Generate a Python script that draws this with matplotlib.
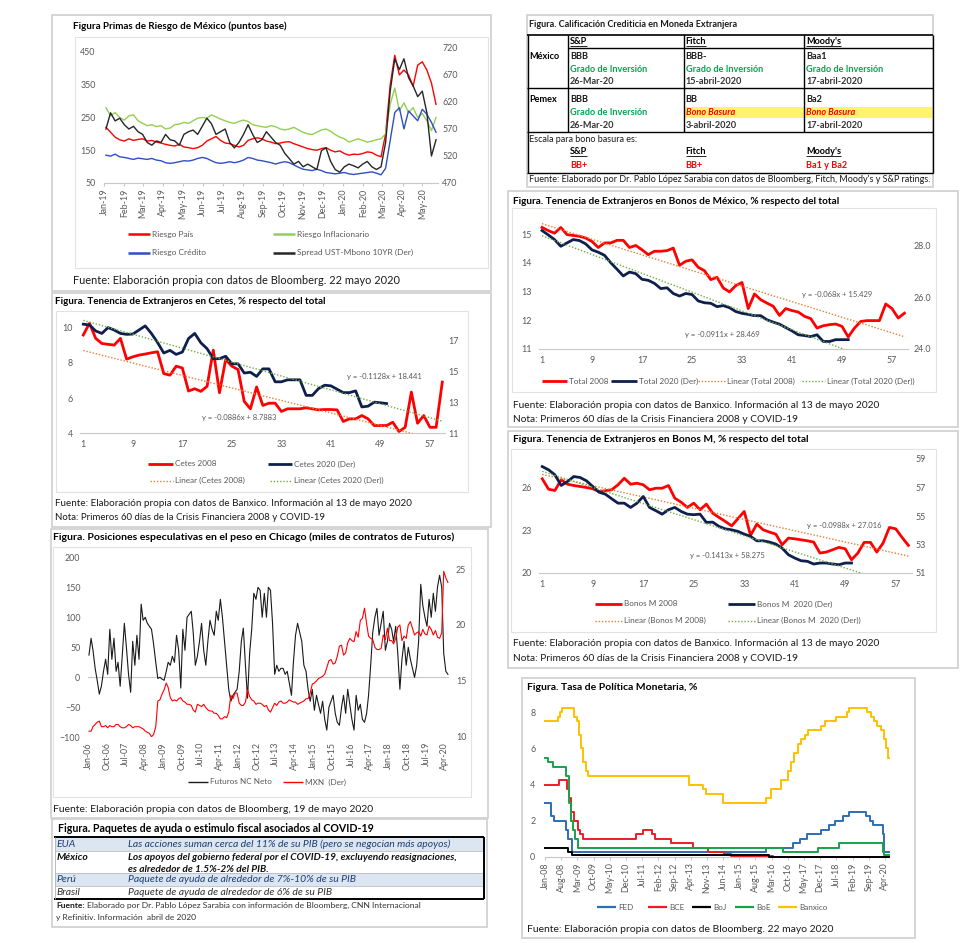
import matplotlib
matplotlib.use('Agg')
import matplotlib.pyplot as plt
import matplotlib.dates as mdates
import numpy as np
import pandas as pd

W, H, DPI = 972, 943, 100
plt.rcParams['font.family'] = ['Lato', 'DejaVu Sans']

# ---------------- DATA ----------------
# Panel 1: Primas de Riesgo de México (weekly, Fridays)
p1_start, p1_end = '2019-01-04', '2020-05-22'
riesgo_pais = [220, 205, 190, 182, 178, 185, 180, 183, 185, 178,
               180, 175, 172, 168, 165, 163, 168, 160, 158, 155,
               158, 165, 178, 185, 192, 180, 172, 170, 165, 160,
               165, 180, 185, 188, 185, 178, 175, 170, 172, 175,
               176, 170, 165, 160, 155, 152, 150, 155, 158, 150,
               145, 148, 140, 135, 138, 137, 140, 145, 143, 135,
               130, 200, 350, 440, 380, 395, 380, 345, 410, 420,
               395, 355, 290]
riesgo_inflacionario = [280, 255, 265, 250, 242, 255, 258, 240, 232, 225,
                        228, 222, 225, 215, 218, 228, 230, 235, 232, 240,
                        248, 250, 248, 258, 252, 245, 240, 235, 232, 238,
                        242, 238, 228, 225, 222, 220, 225, 222, 215, 212,
                        215, 220, 212, 205, 200, 198, 205, 212, 215, 208,
                        198, 190, 185, 175, 180, 185, 180, 175, 178, 182,
                        185, 200, 290, 340, 270, 295, 265, 280, 250, 262,
                        240, 210, 250]
riesgo_credito = [135, 132, 138, 130, 128, 125, 122, 126, 124, 122,
                  125, 120, 118, 112, 110, 112, 115, 118, 117, 120,
                  125, 128, 125, 118, 112, 110, 112, 115, 112, 115,
                  120, 128, 125, 120, 118, 115, 112, 108, 112, 115,
                  112, 105, 98, 92, 90, 88, 92, 88, 82, 80,
                  78, 80, 82, 78, 76, 78, 80, 82, 84, 80,
                  75, 95, 180, 265, 280, 215, 270, 255, 240, 275,
                  260, 235, 205]
spread_ust_mbono = [570, 600, 585, 590, 578, 570, 575, 565, 560, 545,
                    540, 548, 545, 560, 550, 548, 540, 560, 565, 568,
                    560, 575, 590, 580, 560, 565, 570, 545, 535, 545,
                    560, 578, 560, 545, 550, 565, 555, 545, 540, 525,
                    515, 505, 510, 500, 505, 500, 495, 530, 535, 510,
                    495, 490, 500, 505, 502, 498, 505, 510, 500, 495,
                    500, 545, 640, 700, 680, 700, 665, 650, 630, 640,
                    600, 520, 550]

# Panel: Tenencia en Cetes (days 1..)
cetes_2008 = [9.58, 10.25, 9.39, 9.10, 9.05, 9.01, 9.39, 8.21, 8.34, 8.44,
              8.50, 8.57, 8.63, 7.39, 7.30, 7.81, 7.71, 6.40, 6.53, 6.38,
              6.67, 8.72, 6.30, 8.19, 7.81, 7.62, 5.81, 5.39, 6.63, 5.58,
              5.71, 5.71, 5.24, 5.39, 5.39, 5.39, 5.45, 5.39, 5.33, 5.35,
              5.35, 5.33, 4.67, 4.82, 4.82, 5.01, 4.82, 4.44, 4.44, 4.44,
              4.63, 4.10, 4.34, 6.34, 4.57, 5.01, 4.34, 4.34, 6.91]
cetes_2020 = [18.08, 18.03, 17.64, 17.48, 17.86, 17.70, 17.48, 17.42, 17.44, 17.70,
              17.97, 17.48, 16.89, 16.21, 16.38, 16.12, 16.27, 17.15, 17.48, 16.87,
              16.49, 15.84, 15.84, 16.00, 15.51, 15.51, 14.91, 14.96, 14.69, 15.18,
              15.18, 14.34, 14.34, 14.47, 14.47, 14.47, 13.46, 13.46, 13.90, 14.12,
              14.08, 13.86, 13.64, 13.64, 13.75, 12.71, 12.76, 13.02, 12.98, 12.93]
cetes_trend_2008 = (-0.0886, 8.7883)
cetes_trend_2020 = (-0.1128, 18.441)

# Panel: Tenencia en Bonos de México
total_2008 = [15.23, 15.12, 15.03, 15.23, 14.98, 14.95, 14.92, 14.86, 14.74, 14.53,
              14.69, 14.69, 14.78, 14.78, 14.53, 14.60, 14.45, 14.28, 14.40, 14.40,
              14.42, 14.51, 13.91, 14.05, 14.10, 13.84, 13.72, 13.41, 13.49, 13.12,
              12.98, 13.20, 13.31, 12.40, 12.91, 12.71, 12.59, 12.48, 12.16, 12.40,
              12.33, 12.28, 12.13, 12.05, 11.72, 11.80, 11.84, 11.86, 11.78, 11.41,
              11.72, 11.95, 11.98, 11.98, 11.98, 12.56, 12.40, 12.07, 12.24]
total_2020 = [28.58, 28.41, 28.23, 27.97, 28.10, 28.23, 28.19, 28.06, 27.83, 27.74,
              27.62, 27.33, 27.08, 26.82, 26.97, 26.91, 26.69, 26.65, 26.53, 26.33,
              26.36, 26.14, 26.04, 26.14, 26.10, 25.85, 25.78, 25.76, 25.63, 25.67,
              25.59, 25.44, 25.37, 25.33, 25.28, 25.28, 25.12, 25.03, 24.95, 24.82,
              24.69, 24.54, 24.51, 24.47, 24.54, 24.28, 24.28, 24.35, 24.35, 24.35]
total_trend_2008 = (-0.068, 15.429)
total_trend_2020 = (-0.0911, 28.469)

# Panel: Tenencia en Bonos M
bonosm_2008 = [26.61, 25.88, 25.79, 26.54, 26.23, 26.14, 26.07, 26.00, 25.91, 25.72,
               25.77, 25.84, 26.19, 26.65, 26.23, 26.30, 26.19, 25.84, 25.95, 25.95,
               26.14, 25.25, 24.97, 24.60, 24.90, 24.44, 24.83, 24.20, 23.90, 23.62,
               23.31, 23.81, 24.32, 22.64, 23.43, 23.03, 22.87, 22.73, 21.98, 22.45,
               22.40, 22.33, 22.26, 22.17, 21.40, 21.47, 21.63, 21.80, 21.70, 20.93,
               21.40, 22.15, 22.15, 21.47, 22.10, 23.20, 23.10, 22.50, 21.94]
bonosm_2020 = [58.47, 58.24, 57.89, 57.14, 57.42, 57.77, 57.70, 57.47, 57.07, 56.67,
               56.53, 56.21, 55.90, 55.90, 55.60, 55.90, 56.37, 55.60, 55.37, 55.13,
               55.44, 55.60, 55.32, 55.13, 55.09, 55.13, 54.55, 54.57, 54.27, 54.10,
               54.03, 53.92, 53.73, 53.57, 53.26, 53.26, 53.17, 53.03, 52.75, 52.28,
               52.05, 51.86, 51.82, 51.63, 51.70, 51.70, 51.63, 51.58, 51.70, 51.70]
bonosm_trend_2008 = (-0.0988, 27.016)
bonosm_trend_2020 = (-0.1413, 58.275)
trend_days = [1, 59]
day_ticks = [1, 9, 17, 25, 33, 41, 49, 57]

# Panel: Posiciones especulativas (monthly, Jan-2006 .. May-2020)
pos_start = '2006-01-01'
futuros_nc_neto = [37, 65, 45, 15, -5, -28, -15, 10, 30, 5, 80, 30,
                   65, 10, 25, -15, 35, 90, 50, 5, -25, 60, 20, 70,
                   30, 122, 95, 100, 90, 85, 80, 55, 25, -2, 0, -3,
                   -5, 10, 25, 20, 35, 25, 70, 45, -18, 80, 45, 100,
                   105, 110, 75, 20, 35, 60, 90, 45, 20, 60, 95, 80,
                   70, 110, 95, 130, 100, 60, 20, -20, -40, -30, -25, -20,
                   10, 60, 82, 20, -35, 40, 80, 140, 130, 150, 145, 100,
                   140, 100, 150, 145, 90, 5, 20, 10, 15, 15, 5, 10,
                   -10, -30, 25, 70, 90, 75, 60, 20, 10, -20, -40, -20,
                   -55, -30, -45, -60, -40, -70, -88, -50, -40, -30, -60, -75,
                   -80, -50, -30, -60, -20, -45, -70, -88, -30, -55, -45, -70,
                   -75, -60, -30, 20, 75, 100, 115, 70, 90, 110, 45, 60,
                   90, 80, 60, 85, 40, -20, 30, 60, 20, 50, 30, 15,
                   0, 20, 60, 155, 120, 100, 85, 130, 100, 140, 110, 150,
                   170, 150, 40, 10, 5]
mxn = [10.5, 10.5, 10.9, 11.1, 11.3, 11.4, 10.9, 10.9, 11.0, 10.8, 11.0, 10.9,
       10.9, 11.1, 11.1, 10.9, 10.8, 10.8, 10.9, 11.1, 11.0, 10.8, 10.9, 10.9,
       10.9, 10.8, 10.7, 10.5, 10.4, 10.3, 10.0, 10.2, 10.9, 13.2, 13.3, 13.8,
       14.2, 14.8, 14.4, 13.5, 13.2, 13.3, 13.2, 13.4, 13.5, 13.2, 13.1, 12.9,
       12.9, 12.8, 12.4, 12.2, 12.9, 12.8, 12.7, 12.9, 12.6, 12.4, 12.3, 12.3,
       12.1, 12.1, 11.9, 11.6, 11.6, 11.8, 11.7, 12.2, 13.7, 13.4, 13.9, 13.9,
       13.0, 12.8, 12.8, 13.1, 14.2, 13.6, 13.3, 13.2, 12.9, 13.0, 13.0, 12.9,
       12.7, 12.8, 12.4, 12.2, 12.6, 13.0, 12.8, 13.1, 13.2, 13.0, 13.0, 13.1,
       13.3, 13.2, 13.1, 13.1, 12.9, 13.0, 13.1, 13.2, 13.4, 13.4, 13.9, 14.7,
       14.8, 15.0, 15.2, 15.3, 15.4, 15.6, 16.2, 16.8, 16.9, 16.5, 16.6, 17.2,
       18.1, 18.2, 17.3, 17.5, 18.4, 18.8, 18.6, 18.5, 19.4, 18.9, 20.4, 20.6,
       21.5, 20.1, 19.0, 18.8, 18.7, 18.0, 17.8, 17.8, 17.9, 19.1, 18.7, 19.7,
       18.6, 18.6, 18.3, 18.8, 19.8, 20.0, 18.6, 19.0, 18.8, 20.0, 20.3, 19.7,
       19.1, 19.3, 19.4, 19.0, 19.6, 19.2, 19.1, 19.9, 19.6, 19.1, 19.5, 18.9,
       18.8, 19.3, 24.8, 24.2, 23.8]

# Panel: Tasa de política monetaria (decision dates and new levels)
rates_end = '2020-05-22'
fed_dates = ['2008-01-01', '2008-03-18', '2008-04-30', '2008-10-08', '2008-10-29', '2008-12-16',
             '2015-12-16', '2016-12-14', '2017-03-15', '2017-06-14', '2017-12-13', '2018-03-21',
             '2018-06-13', '2018-09-26', '2018-12-19', '2019-07-31', '2019-09-18', '2019-10-30',
             '2020-03-03', '2020-03-15']
fed_rates = [3.0, 2.25, 2.0, 1.5, 1.0, 0.25, 0.5, 0.75, 1.0, 1.25, 1.5, 1.75,
             2.0, 2.25, 2.5, 2.25, 2.0, 1.75, 1.25, 0.25]
bce_dates = ['2008-01-01', '2008-07-09', '2008-10-15', '2008-11-12', '2008-12-10', '2009-01-21',
             '2009-03-11', '2009-04-08', '2009-05-13', '2011-04-13', '2011-07-13', '2011-11-09',
             '2011-12-14', '2012-07-11', '2013-05-08', '2013-11-13', '2014-06-11', '2014-09-10',
             '2016-03-16']
bce_rates = [4.0, 4.25, 3.75, 3.25, 2.5, 2.0, 1.5, 1.25, 1.0, 1.25, 1.5, 1.25,
             1.0, 0.75, 0.5, 0.25, 0.15, 0.05, 0.0]
boj_dates = ['2008-01-01', '2008-10-31', '2008-12-19', '2016-01-29']
boj_rates = [0.5, 0.3, 0.1, 0.0]
boe_dates = ['2008-01-01', '2008-02-07', '2008-04-10', '2008-10-08', '2008-11-06', '2008-12-04',
             '2009-01-08', '2009-02-05', '2009-03-05', '2016-08-04', '2017-11-02', '2018-08-02',
             '2020-03-11', '2020-03-19']
boe_rates = [5.5, 5.25, 5.0, 4.5, 3.0, 2.0, 1.5, 1.0, 0.5, 0.25, 0.5, 0.75, 0.25, 0.1]
banxico_dates = ['2008-01-01', '2008-06-20', '2008-07-18', '2008-08-15', '2009-01-16', '2009-02-20',
                 '2009-03-20', '2009-04-17', '2009-05-15', '2009-06-19', '2009-07-17', '2013-03-08',
                 '2013-09-06', '2013-10-25', '2014-06-06', '2015-12-17', '2016-02-17', '2016-06-30',
                 '2016-09-29', '2016-11-17', '2016-12-15', '2017-02-09', '2017-03-30', '2017-05-18',
                 '2017-06-22', '2017-12-14', '2018-02-08', '2018-06-21', '2018-11-15', '2018-12-20',
                 '2019-08-15', '2019-09-26', '2019-11-14', '2019-12-19', '2020-02-13', '2020-03-20',
                 '2020-04-21', '2020-05-14']
banxico_rates = [7.5, 7.75, 8.0, 8.25, 7.75, 7.5, 6.75, 6.0, 5.25, 4.75, 4.5, 4.0,
                 3.75, 3.5, 3.0, 3.25, 3.75, 4.25, 4.75, 5.25, 5.75, 6.25, 6.5, 6.75,
                 7.0, 7.25, 7.5, 7.75, 8.0, 8.25, 8.0, 7.75, 7.5, 7.25, 7.0, 6.5,
                 6.0, 5.5]

# ---------------- STYLE ----------------
RED = '#FF0000'
GREEN_L = '#92D050'
BLUE = '#2F4FC4'
DARK = '#262626'
NAVY = '#0E1F4D'
ORANGE = '#ED7D31'
GREEN_T = '#70AD47'
TICK = '#595959'
FRAME = '#D2D2D2'
INNER = '#E2E2E2'
AXLINE = '#C8C8C8'
DOT = (0, (1, 1.3))
TS = 6.4      # tick label size
LS = 5.9      # legend text size

fig = plt.figure(figsize=(W / DPI, H / DPI), dpi=DPI)
fig.patch.set_facecolor('white')


def pax(x0, y0, x1, y1):
    return fig.add_axes([x0 / W, 1 - y1 / H, (x1 - x0) / W, (y1 - y0) / H])


ov = fig.add_axes([0, 0, 1, 1], zorder=20)
ov.set_xlim(0, W)
ov.set_ylim(H, 0)
ov.axis('off')


def rect(x0, y0, x1, y1, ec='none', lw=1.0, fc='none', z=1):
    ov.add_patch(plt.Rectangle((x0, y0), x1 - x0, y1 - y0, ec=ec, fc=fc, lw=lw, zorder=z))


def hl(x0, x1, y, c='black', lw=1.0, ls='-', z=3):
    ov.plot([x0, x1], [y, y], color=c, lw=lw, ls=ls, zorder=z, solid_capstyle='butt')


def vl(x, y0, y1, c='black', lw=1.0, z=3):
    ov.plot([x, x], [y0, y1], color=c, lw=lw, zorder=z, solid_capstyle='butt')


def T(x, y, s, size=6.0, color='#000000', weight='normal', style='normal', ha='left'):
    return ov.text(x, y, s, fontsize=size, color=color, fontweight=weight,
                   fontstyle=style, ha=ha, va='center', zorder=5)


def clean(ax, bottom=False):
    for k, s in ax.spines.items():
        s.set_visible(False)
    if bottom:
        ax.spines['bottom'].set_visible(True)
        ax.spines['bottom'].set_color(AXLINE)
        ax.spines['bottom'].set_linewidth(0.8)
    ax.patch.set_alpha(0)
    ax.tick_params(axis='both', length=0, labelsize=TS, labelcolor=TICK)


def eq(tr):
    return f'y = {tr[0]}x + {tr[1]}'


# ---------------- FRAMES ----------------
rect(52, 15, 491, 291, ec=FRAME, lw=1.3)
rect(75, 37, 488, 268, ec=INNER, lw=0.8)
rect(52, 293, 491, 527, ec=FRAME, lw=1.3)
rect(56, 311, 468, 492, ec=INNER, lw=0.8)
rect(51, 529, 488, 818, ec=FRAME, lw=1.3)
rect(53, 547, 471, 797, ec=INNER, lw=0.8)
rect(52, 819, 487, 927, ec=FRAME, lw=1.3)
rect(527, 15, 933, 187, ec=FRAME, lw=1.3)
rect(508, 191, 958, 427, ec=FRAME, lw=1.3)
rect(512, 208, 936, 392, ec=INNER, lw=0.8)
rect(508, 431, 958, 668, ec=FRAME, lw=1.3)
rect(511, 449, 936, 632, ec=INNER, lw=0.8)
rect(522, 678, 915, 938, ec=FRAME, lw=1.3)

# ---------------- PANEL 1 ----------------
d1 = pd.date_range(p1_start, p1_end, freq='W-FRI')
ax1 = pax(104, 48, 438, 183)
clean(ax1, bottom=True)
ax1.plot(d1, riesgo_pais, color=RED, lw=1.0)
ax1.plot(d1, riesgo_inflacionario, color=GREEN_L, lw=1.0)
ax1.plot(d1, riesgo_credito, color=BLUE, lw=1.0)
ax1.set_ylim(50, 462.2)
ax1.set_yticks([50, 150, 250, 350, 450])
ax1.set_xlim(pd.Timestamp('2019-01-01'), pd.Timestamp('2020-05-25'))
ax1.xaxis.set_major_locator(mdates.MonthLocator())
ax1.xaxis.set_major_formatter(mdates.DateFormatter('%b-%y'))
ax1.tick_params(axis='x', length=2.5, color=AXLINE, pad=1.5, labelrotation=90)
ax1.tick_params(axis='y', pad=6.0)
ax1r = ax1.twinx()
clean(ax1r)
ax1r.plot(d1, spread_ust_mbono, color=DARK, lw=1.0)
ax1r.set_ylim(470, 720)
ax1r.set_yticks([470, 520, 570, 620, 670, 720])
ax1r.tick_params(axis='y', pad=3)

T(73, 26, 'Figura Primas de Riesgo de México (puntos base)', 7.15, weight='bold')
hl(128, 150, 234, RED, 1.8)
T(152, 234, 'Riesgo País', 6.0, TICK)
hl(273, 295, 234, GREEN_L, 1.8)
T(297, 234, 'Riesgo Inflacionario', 6.0, TICK)
hl(128, 150, 252.7, BLUE, 1.8)
T(152, 252.7, 'Riesgo Crédito', 6.0, TICK)
hl(273, 295, 252.7, DARK, 1.8)
T(297, 252.7, 'Spread UST-Mbono 10YR (Der)', 6.0, TICK)
T(73.3, 280.7, 'Fuente: Elaboración propia con datos de Bloomberg. 22 mayo 2020', 7.9, '#1A1A1A')

# ---------------- CETES ----------------
x08 = np.arange(1, len(cetes_2008) + 1)
x20 = np.arange(1, len(cetes_2020) + 1)
xt = np.array(trend_days, dtype=float)
axc = pax(80.2, 310, 445.4, 433.3)
clean(axc, bottom=True)
axc.plot(x08, cetes_2008, color=RED, lw=2.0)
axc.plot(xt, cetes_trend_2008[0] * xt + cetes_trend_2008[1], color=ORANGE, lw=1.0, ls=DOT)
axc.set_xlim(0.5, 59.5)
axc.set_ylim(4, 11)
axc.set_yticks([4, 6, 8, 10])
axc.set_xticks(day_ticks)
axc.tick_params(axis='y', pad=5.5)
axc.tick_params(axis='x', pad=5.0)
axcr = axc.twinx()
clean(axcr)
axcr.plot(x20, cetes_2020, color=NAVY, lw=2.0)
axcr.plot(xt, cetes_trend_2020[0] * xt + cetes_trend_2020[1], color=GREEN_T, lw=1.0, ls=DOT)
axcr.set_ylim(11, 19)
axcr.set_yticks([11, 13, 15, 17])
axcr.tick_params(axis='y', pad=2)

T(55, 302, 'Figura. Tenencia de Extranjeros en Cetes, % respecto del total', 7.1, weight='bold')
T(347, 376, eq(cetes_trend_2020), 5.5, TICK)
T(202, 417.7, eq(cetes_trend_2008), 5.5, TICK)
hl(148, 173, 464, RED, 2.0)
T(175, 464, 'Cetes 2008', LS, TICK)
hl(268, 292, 464, NAVY, 2.0)
T(293.5, 464, 'Cetes 2020 (Der)', LS, TICK)
hl(150, 173, 480.7, ORANGE, 1.0, DOT)
T(175, 480.7, 'Linear (Cetes 2008)', LS, TICK)
hl(270, 292, 480.7, GREEN_T, 1.0, DOT)
T(293.5, 480.7, 'Linear (Cetes 2020 (Der))', LS, TICK)
T(55, 503, 'Fuente: Elaboración propia con datos de Banxico. Información al 13 de mayo 2020', 7.1, '#1A1A1A')
T(55, 517.7, 'Nota: Primeros 60 días de la Crisis Financiera 2008 y COVID-19', 6.95, '#1A1A1A')

# ---------------- BONOS DE MEXICO ----------------
axb = pax(538.9, 219.7, 907.6, 348.7)
clean(axb, bottom=True)
axb.plot(np.arange(1, len(total_2008) + 1), total_2008, color=RED, lw=2.0)
axb.plot(xt, total_trend_2008[0] * xt + total_trend_2008[1], color=ORANGE, lw=1.0, ls=DOT)
axb.set_xlim(0.5, 59.5)
axb.set_ylim(11, 15.5)
axb.set_yticks([11, 12, 13, 14, 15])
axb.set_xticks(day_ticks)
axb.tick_params(axis='y', pad=5.0)
axb.tick_params(axis='x', pad=5.5)
axbr = axb.twinx()
clean(axbr)
axbr.plot(np.arange(1, len(total_2020) + 1), total_2020, color=NAVY, lw=2.0)
axbr.plot(xt, total_trend_2020[0] * xt + total_trend_2020[1], color=GREEN_T, lw=1.0, ls=DOT)
axbr.set_ylim(24, 29)
axbr.set_yticks([24, 26, 28])
axbr.set_yticklabels(['24.0', '26.0', '28.0'])
axbr.tick_params(axis='y', pad=4)

T(513, 201, 'Figura. Tenencia de Extranjeros en Bonos de México, % respecto del total', 7.2, weight='bold')
T(802, 295, eq(total_trend_2008), 5.5, TICK)
T(685, 334, eq(total_trend_2020), 5.5, TICK)
hl(542, 567, 381, RED, 2.0)
T(568.5, 381, 'Total 2008', LS, TICK)
hl(611, 637, 381, NAVY, 2.0)
T(638.5, 381, 'Total 2020 (Der)', LS, TICK)
hl(698, 725, 381, ORANGE, 1.0, DOT)
T(727, 381, 'Linear (Total 2008)', LS, TICK)
hl(802, 825, 381, GREEN_T, 1.0, DOT)
T(827, 381, 'Linear (Total 2020 (Der))', LS, TICK)
T(513, 405, 'Fuente: Elaboración propia con datos de Banxico. Información al 13 de mayo 2020', 7.25, '#1A1A1A')
T(513, 419, 'Nota: Primeros 60 días de la Crisis Financiera 2008 y COVID-19', 7.25, '#1A1A1A')

# ---------------- BONOS M ----------------
axm = pax(539.1, 459, 911.5, 573)
clean(axm, bottom=True)
axm.plot(np.arange(1, len(bonosm_2008) + 1), bonosm_2008, color=RED, lw=2.0)
axm.plot(xt, bonosm_trend_2008[0] * xt + bonosm_trend_2008[1], color=ORANGE, lw=1.0, ls=DOT)
axm.set_xlim(0.5, 59.5)
axm.set_ylim(20, 28)
axm.set_yticks([20, 23, 26])
axm.set_xticks(day_ticks)
axm.tick_params(axis='y', pad=5.0)
axm.tick_params(axis='x', pad=5.3)
axmr = axm.twinx()
clean(axmr)
axmr.plot(np.arange(1, len(bonosm_2020) + 1), bonosm_2020, color=NAVY, lw=2.0)
axmr.plot(xt, bonosm_trend_2020[0] * xt + bonosm_trend_2020[1], color=GREEN_T, lw=1.0, ls=DOT)
axmr.set_ylim(51, 59)
axmr.set_yticks([51, 53, 55, 57, 59])
axmr.tick_params(axis='y', pad=3)

T(513, 439.7, 'Figura. Tenencia de Extranjeros en Bonos M, % respecto del total', 7.25, weight='bold')
T(806.7, 525.3, eq(bonosm_trend_2008), 5.5, TICK)
T(690, 555.7, eq(bonosm_trend_2020), 5.5, TICK)
hl(595, 622, 604, RED, 2.0)
T(623.5, 604, 'Bonos M 2008', LS, TICK)
hl(728, 755, 604, NAVY, 2.0)
T(757, 604, 'Bonos M  2020 (Der)', LS, TICK)
hl(595, 622, 620.7, ORANGE, 1.0, DOT)
T(623.5, 620.7, 'Linear (Bonos M 2008)', LS, TICK)
hl(728, 755, 620.7, GREEN_T, 1.0, DOT)
T(757, 620.7, 'Linear (Bonos M  2020 (Der))', LS, TICK)
T(513, 644, 'Fuente: Elaboración propia con datos de Banxico. Información al 13 de mayo 2020', 7.25, '#1A1A1A')
T(513, 658.7, 'Nota: Primeros 60 días de la Crisis Financiera 2008 y COVID-19', 7.25, '#1A1A1A')

# ---------------- POSICIONES ----------------
dpos = pd.date_range(pos_start, periods=len(futuros_nc_neto), freq='MS') + pd.Timedelta(days=14)
axp = pax(88, 557.3, 449, 737.3)
clean(axp)
axp.axhline(0, color=AXLINE, lw=0.8)
axp.plot(dpos, futuros_nc_neto, color='#1A1A1A', lw=0.8)
axp.set_ylim(-100, 200)
axp.set_yticks([-100, -50, 0, 50, 100, 150, 200])
axp.set_xlim(pd.Timestamp('2006-01-01'), pd.Timestamp('2020-05-31'))
axp.set_xticks(pd.date_range('2006-01-01', '2020-04-01', freq='9MS'))
axp.xaxis.set_major_formatter(mdates.DateFormatter('%b-%y'))
axp.tick_params(axis='x', labelrotation=90, pad=3.4)
axp.tick_params(axis='y', pad=5.5)
axpr = axp.twinx()
clean(axpr)
axpr.plot(dpos, mxn, color=RED, lw=0.8)
axpr.set_ylim(9.95, 26.05)
axpr.set_yticks([10, 15, 20, 25])
axpr.tick_params(axis='y', pad=5)

T(53, 537.7, 'Figura. Posiciones especulativas en el peso en Chicago (miles de contratos de Futuros)', 7.55,
  weight='bold')
hl(188, 208, 782, '#1A1A1A', 1.0)
T(210, 782, 'Futuros NC Neto', LS, TICK)
hl(283, 303, 782, RED, 1.0)
T(305, 782, 'MXN  (Der)', LS, TICK)
T(53, 809, 'Fuente: Elaboración propia con datos de Bloomberg, 19 de mayo 2020', 7.5, '#1A1A1A')

# ---------------- TASA DE POLITICA ----------------
axt = pax(545, 700, 889, 857)
clean(axt, bottom=True)
for dts, vals, col in [(fed_dates, fed_rates, '#2F6DB5'), (bce_dates, bce_rates, '#EE1C25'),
                       (boj_dates, boj_rates, '#000000'), (boe_dates, boe_rates, '#16A34A'),
                       (banxico_dates, banxico_rates, '#FFC000')]:
    dd = pd.to_datetime(list(dts) + [rates_end])
    vv = list(vals) + [vals[-1]]
    axt.step(dd, vv, where='post', color=col, lw=1.4, clip_on=False, zorder=3)
axt.set_ylim(0, 8.68)
axt.set_yticks([0, 2, 4, 6, 8])
axt.set_xlim(pd.Timestamp('2008-01-01'), pd.Timestamp('2020-05-25'))
axt.set_xticks(pd.date_range('2008-01-01', '2020-04-01', freq='7MS'))
axt.xaxis.set_major_formatter(mdates.DateFormatter('%b-%y'))
axt.tick_params(axis='x', labelrotation=90, length=2.5, color=AXLINE, pad=1.5)
axt.tick_params(axis='y', pad=7)

T(527, 687.7, 'Figura. Tasa de Política Monetaria, %', 7.5, weight='bold')
for x0, label, col in [(597, 'FED', '#2F6DB5'), (648, 'BCE', '#EE1C25'), (692, 'BoJ', '#000000'),
                       (735, 'BoE', '#16A34A'), (778, 'Banxico', '#FFC000')]:
    hl(x0, x0 + 19, 907, col, 1.6)
    T(x0 + 21, 907, label, LS, TICK)
T(527, 930, 'Fuente: Elaboración propia con datos de Bloomberg. 22 mayo 2020', 7.5, '#1A1A1A')

# ---------------- TABLA CALIFICACION ----------------
GRN = '#00A64F'
CS = 6.55   # cell text size
T(529, 24.3, 'Figura. Calificación Crediticia en Moneda Extranjera', 6.45, '#1A1A1A', weight='bold')
rect(684, 106.7, 932, 118.3, fc='#FFF36B', z=2)
hl(527, 933, 35, lw=1.2)
hl(568, 933, 48.3, lw=1.0)
hl(527, 933, 88.3, lw=1.0)
hl(527, 933, 131.7, lw=1.0)
hl(527, 933, 173.3, lw=1.0)
vl(527.5, 35, 173.3, lw=1.0)
vl(568, 35, 131.7, lw=1.0)
vl(684, 35, 131.7, lw=1.0)
vl(804, 35, 131.7, lw=1.0)
vl(932.5, 35, 173.3, lw=1.0)

underl = []
for x, s in [(570, 'S&P'), (685.7, 'Fitch'), (806, "Moody's")]:
    underl.append(T(x, 42.0, s, CS, weight='bold'))
    underl.append(T(x, 152.0, s, CS, weight='bold'))
T(529.3, 56.7, 'México', CS, weight='bold')
T(529.3, 100, 'Pemex', CS, weight='bold')
cols = [570, 685.7, 806]
mex = [('BBB', '26-Mar-20'), ('BBB-', '15-abril-2020'), ('Baa1', '17-abril-2020')]
for x, (r, d) in zip(cols, mex):
    T(x, 56.7, r, CS, '#1A1A1A', 'bold')
    T(x, 69.3, 'Grado de Inversión', CS, GRN, 'bold')
    T(x, 82, d, CS, '#333333', 'bold')
pem = [('BBB', 'Grado de Inversión', '26-Mar-20'), ('BB', 'Bono Basura', '3-abril-2020'),
       ('Ba2', 'Bono Basura', '17-abril-2020')]
for x, (r, g, d) in zip(cols, pem):
    T(x, 100, r, CS, '#1A1A1A', 'bold')
    if g == 'Bono Basura':
        T(x, 112.7, g, CS, RED, 'bold', 'italic')
    else:
        T(x, 112.7, g, CS, GRN, 'bold')
    T(x, 126, d, CS, '#333333', 'bold')
T(529.3, 140, 'Escala para bono basura es:', 6.5, '#1A1A1A')
for x, s in zip(cols, ['BB+', 'BB+', 'Ba1 y Ba2']):
    T(x, 165.7, s, CS, RED, 'bold')
T(529.3, 179.7, "Fuente: Elaborado por Dr. Pablo López Sarabia con datos de Bloomberg, Fitch, Moody's y S&P ratings.",
  6.5, '#1A1A1A')

# ---------------- TABLA PAQUETES ----------------
BAND = '#DCE6F2'
DB = '#1F3F6F'
RS = 7.5
T(58, 829, 'Figura. Paquetes de ayuda o estimulo fiscal asociados al COVID-19', 7.7, weight='bold')
rect(55, 837.7, 483, 851.3, fc=BAND, z=2)
rect(55, 873.3, 483, 886, fc=BAND, z=2)
hl(55, 483, 851.3, '#B0B0B0', 0.5)
hl(55, 483, 873.3, '#B0B0B0', 0.5)
hl(55, 483, 886, '#B0B0B0', 0.5)
hl(54, 484, 836.7, lw=1.4)
hl(54, 484, 899, lw=1.4)
vl(483.5, 836.7, 899, lw=1.4)
vl(54.5, 836.7, 899, '#B0B0B0', 0.6)
T(56.5, 844.5, 'EUA', RS, DB, style='italic')
T(128, 844.5, 'Las acciones suman cerca del 11% de su PIB (pero se negocian más apoyos)', RS, DB, style='italic')
T(56.5, 857.3, 'México', RS, '#111111', 'bold', 'italic')
T(128, 857.3, 'Los apoyos del gobierno federal por el COVID-19, excluyendo reasignaciones,', 7.3,
  '#111111', 'bold', 'italic')
T(128, 870, 'es alrededor de 1.5%-2% del PIB.', 7.3, '#111111', 'bold', 'italic')
T(56.5, 879.7, 'Perú', RS, DB, style='italic')
T(128, 879.7, 'Paquete de ayuda de alrededor de 7%-10% de su PIB', RS, DB, style='italic')
T(56.5, 892.3, 'Brasil', RS, '#333333', style='italic')
T(128, 892.3, 'Paquete de ayuda de alrededor de 6% de su PIB', RS, '#333333', style='italic')
fu = T(56, 905.7, 'Fuente:', 6.1, '#1A1A1A', 'bold')
T(56, 917.3, 'y Refinitiv. Información  abril de 2020', 6.1, '#333333')

# underlines for header words and continuation of the source line
fig.canvas.draw()
rend = fig.canvas.get_renderer()
for t in underl:
    bb = t.get_window_extent(rend)
    hl(bb.x0, bb.x1, H - bb.y0 - 0.3, '#000000', 0.6)
bb = fu.get_window_extent(rend)
T(bb.x1 + 2.5, 905.7, 'Elaborado por Dr. Pablo López Sarabia con información de Bloomberg, CNN Internacional',
  6.1, '#333333')

fig.savefig('out.png', dpi=DPI, facecolor='white')
